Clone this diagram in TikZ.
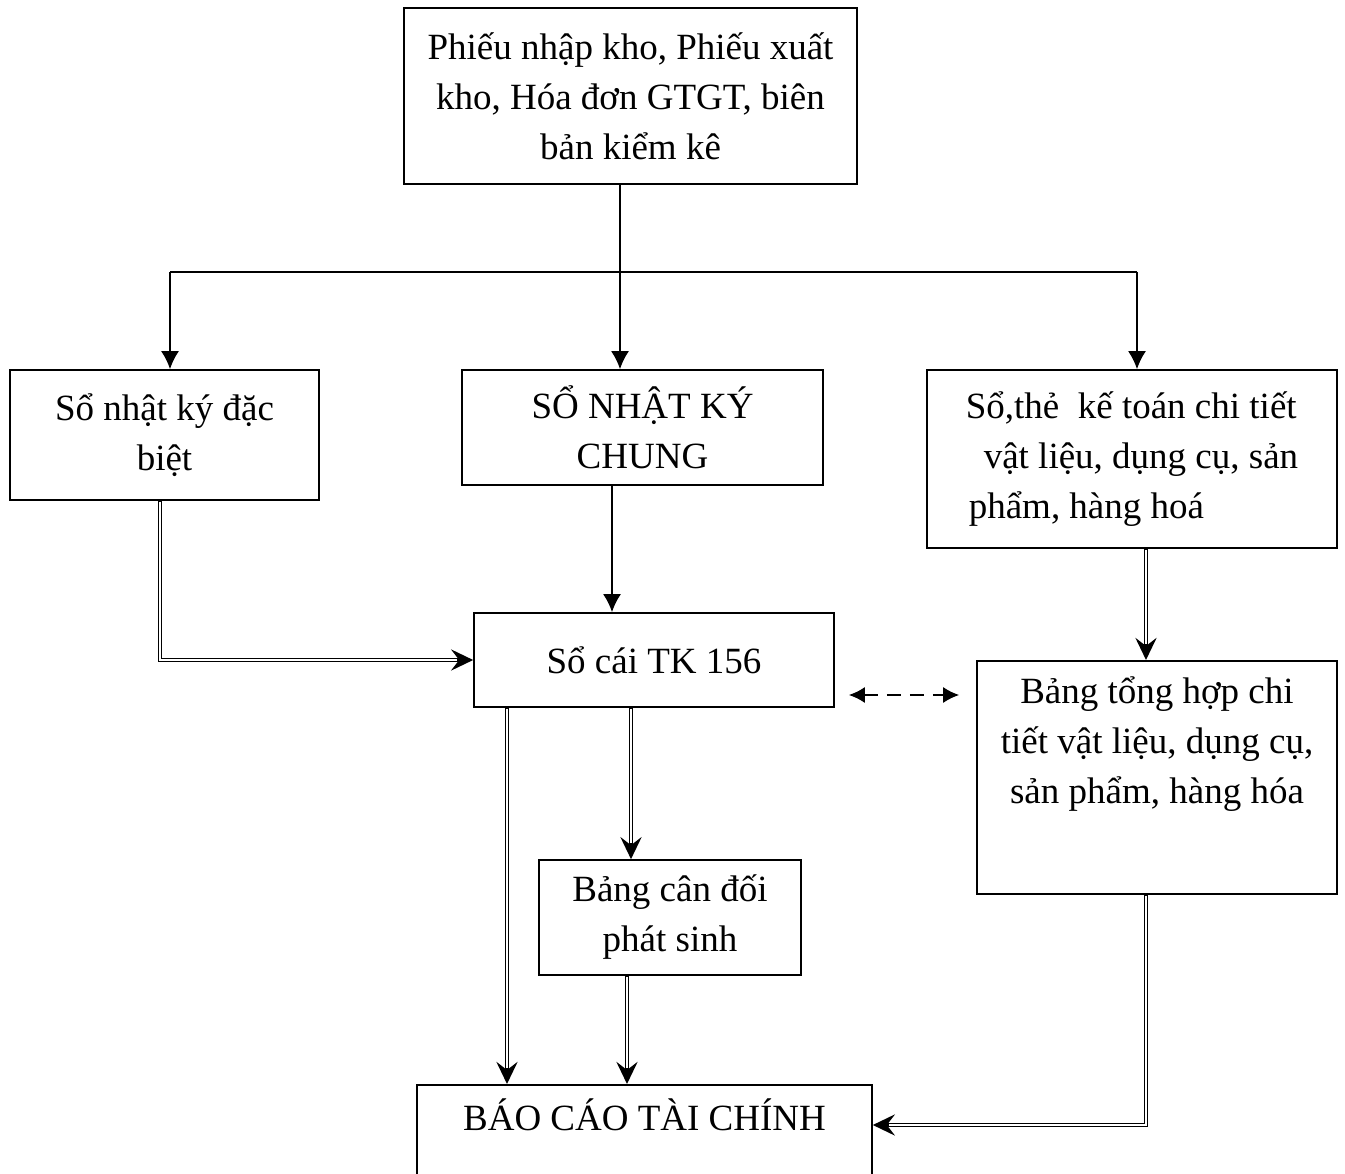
\documentclass[tikz,border=0pt]{standalone}
\usepackage{fontspec}
\setmainfont{Liberation Serif}
\usetikzlibrary{arrows.meta}

\begin{document}
\begin{tikzpicture}[x=1pt,y=-1pt, >={Latex[length=18pt,width=18pt]},
    box/.style={draw,line width=1.6pt,align=center,inner sep=0pt,
        font=\fontsize{37}{50}\selectfont},
    dbl/.style={line width=4.6pt,-{Stealth[length=22pt,width=21pt,inset=8pt]},
        postaction={draw=white,line width=1.8pt,-,shorten >=16pt,shorten <=1pt}},
    single/.style={line width=2pt}]
    \useasboundingbox (0,0) rectangle (1345,1174);
    \clip (0,0) rectangle (1345,1174);
    % cac o
    \node[box,minimum width=453pt,minimum height=176pt] (ct) at (630.5,96)
        {Phiếu nhập kho, Phiếu xuất\\kho, Hóa đơn GTGT, biên\\bản kiểm kê};
    \node[box,minimum width=309pt,minimum height=130pt] (nkdb) at (164.5,435)
        {Sổ nhật ký đặc\\biệt};
    \node[box,minimum width=361pt,minimum height=115pt] (nkc) at (642.5,427.5)
        {SỔ NHẬT KÝ\\CHUNG};
    \node[box,align=left,minimum width=410pt,minimum height=178pt] (sct) at (1132,459)
        {Sổ,thẻ\ \ kế toán chi tiết\\\hspace*{18pt}vật liệu, dụng cụ, sản\\\hspace*{3pt}phẩm, hàng hoá};
    \node[box,minimum width=360pt,minimum height=94pt] (sc) at (654,660)
        {Sổ cái TK 156};
    \node[box,minimum width=360pt,text height=143pt,text depth=90pt,anchor=north] (bth)
        at (1157,660) {Bảng tổng hợp chi\\tiết vật liệu, dụng cụ,\\sản phẩm, hàng hóa};
    \node[box,minimum width=262pt,minimum height=115pt] (cdps) at (670,917.5)
        {Bảng cân đối\\phát sinh};
    \node[box,minimum width=455pt,text height=46pt,text depth=140pt,anchor=north] (bctc)
        at (644.5,1084) {BÁO CÁO TÀI CHÍNH};
    % mui ten
    \coordinate (bus) at (620,272);
    \draw[single] ([xshift=-10.5pt]ct.south) -- (bus);
    \draw[single] ([xshift=5.5pt]nkdb.north |- bus) -- ([xshift=5pt]sct.north |- bus);
    \draw[single,->] ([xshift=5.5pt]nkdb.north |- bus) -- ([xshift=5.5pt]nkdb.north);
    \draw[single,->] (bus) -- (bus |- nkc.north);
    \draw[single,->] ([xshift=5pt]sct.north |- bus) -- ([xshift=5pt]sct.north);
    \draw[single,->] ([xshift=-30.5pt]nkc.south) -- ([xshift=-30.5pt]nkc.south |- sc.north);
    \draw[dbl] ([xshift=-4.5pt]nkdb.south) |- (sc.west);
    \draw[dbl] ([xshift=14pt]sct.south) -- ([xshift=14pt]sct.south |- bth.north);
    \draw[dbl] ([xshift=-147pt]sc.south) -- ([xshift=-147pt]sc.south |- bctc.north);
    \draw[dbl] ([xshift=-23pt]sc.south) -- ([xshift=-23pt]sc.south |- cdps.north);
    \draw[dbl] ([xshift=-43pt]cdps.south) -- ([xshift=-43pt]cdps.south |- bctc.north);
    \draw[dbl] ([xshift=-11pt]bth.south) |- ([yshift=-41pt]bctc.north east);
    \draw[<->,line width=2pt,dash pattern=on 14pt off 9pt,
        >={Latex[length=16pt,width=16pt]}]
        ([xshift=14pt,yshift=-35pt]sc.east) -- ([xshift=-17pt,yshift=-35pt]sc.east -| bth.west);
\end{tikzpicture}
\end{document}
